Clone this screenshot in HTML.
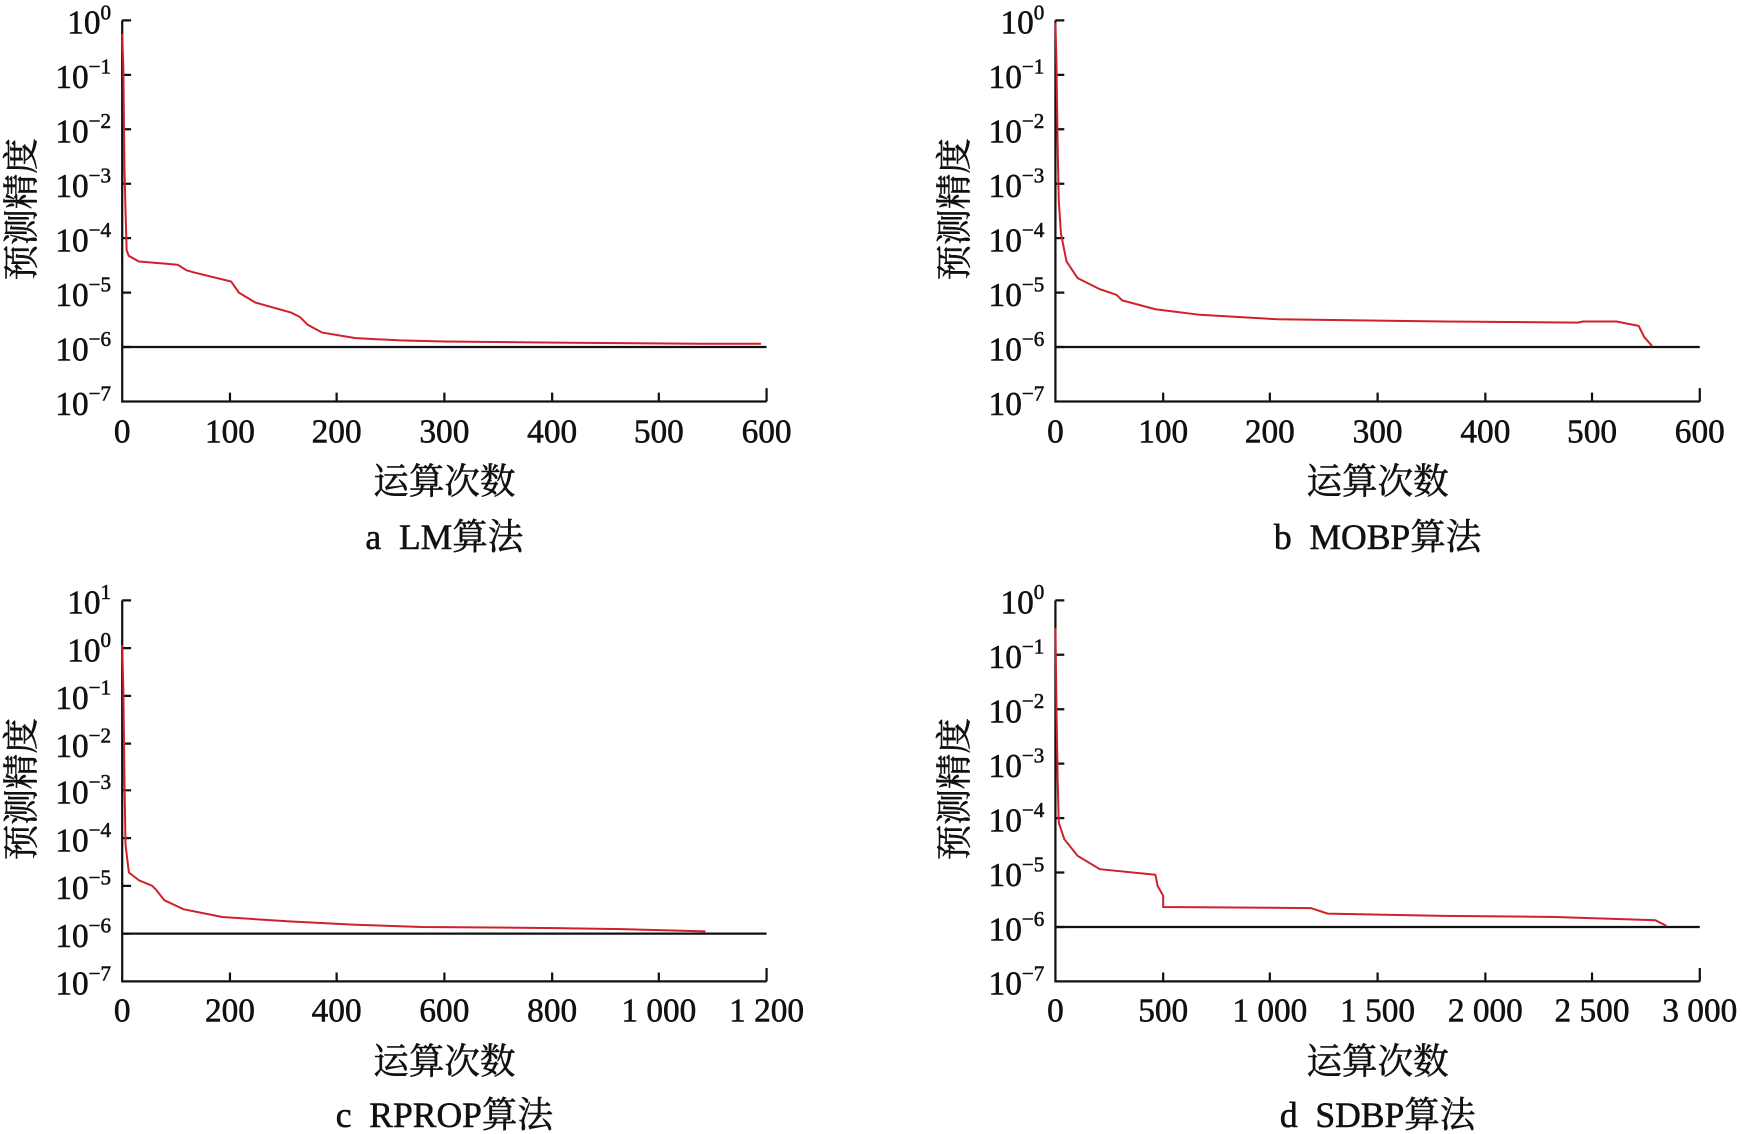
<!DOCTYPE html>
<html><head><meta charset="utf-8"><style>
html,body{margin:0;padding:0;background:#fff;}
svg{display:block}
text{font-family:"Liberation Serif","Noto Serif CJK SC",serif;fill:#111;stroke:#111;stroke-width:0.5;}
.t{font-size:30px;}
.cj{font-family:"Liberation Serif","Noto Serif CJK SC",serif;font-size:32px;}
</style></head><body>
<svg width="1742" height="1134" viewBox="0 0 1568 1020" xmlns="http://www.w3.org/2000/svg">
<g stroke="#111" stroke-width="2" fill="none">
<path d="M110,18 V361 H690"/>
<path d="M110,18h8M110,67h8M110,116h8M110,165h8M110,214h8M110,263h8M110,312h8"/>
<path d="M207,361v-8M303,361v-8M400,361v-8M497,361v-8M593,361v-8M690,361v-12"/>
<path d="M110,312H690"/>
<path d="M950,18 V361 H1530"/>
<path d="M950,18h8M950,67h8M950,116h8M950,165h8M950,214h8M950,263h8M950,312h8"/>
<path d="M1047,361v-8M1143,361v-8M1240,361v-8M1337,361v-8M1433,361v-8M1530,361v-12"/>
<path d="M950,312H1530"/>
<path d="M110,540 V883 H690"/>
<path d="M110,540h8M110,583h8M110,626h8M110,669h8M110,711h8M110,754h8M110,797h8M110,840h8"/>
<path d="M207,883v-8M303,883v-8M400,883v-8M497,883v-8M593,883v-8M690,883v-12"/>
<path d="M110,840H690"/>
<path d="M950,540 V883 H1530"/>
<path d="M950,540h8M950,589h8M950,638h8M950,687h8M950,736h8M950,785h8M950,834h8"/>
<path d="M1047,883v-8M1143,883v-8M1240,883v-8M1337,883v-8M1433,883v-8M1530,883v-12"/>
<path d="M950,834H1530"/>
</g>
<g stroke="#d0202a" stroke-width="1.8" fill="none">
<polyline points="110,30 111,60 112,150 113,190 114,225 116,230 125,235 150,237 160,238 168,243 175,245 208,253 215,263 230,272 262,281 270,285 277,292 290,299 320,304 360,306 400,307 500,308 630,309 685,309"/>
<polyline points="950,20 951,60 952,130 953,180 955,210 960,235 970,250 990,260 1005,265 1010,270 1040,278 1080,283 1150,287 1300,289 1420,290 1425,289 1455,289 1475,293 1480,303 1487,311"/>
<polyline points="110,580 111,620 112,700 113,760 116,785 125,792 137,797 140,800 148,810 165,818 200,825 260,829 320,832 380,834 500,835 560,836 635,838"/>
<polyline points="950,565 951,640 952,700 953,740 958,755 970,770 990,782 1040,787 1042,797 1047,806 1047,816 1180,817 1195,822 1300,824 1400,825 1490,828 1500,833"/>
</g>
<g class="t" text-anchor="end">
<text x="100" y="30">10<tspan font-size="19" dy="-13">0</tspan></text>
<text x="100" y="79">10<tspan font-size="19" dy="-13">−1</tspan></text>
<text x="100" y="128">10<tspan font-size="19" dy="-13">−2</tspan></text>
<text x="100" y="177">10<tspan font-size="19" dy="-13">−3</tspan></text>
<text x="100" y="226">10<tspan font-size="19" dy="-13">−4</tspan></text>
<text x="100" y="275">10<tspan font-size="19" dy="-13">−5</tspan></text>
<text x="100" y="324">10<tspan font-size="19" dy="-13">−6</tspan></text>
<text x="100" y="373">10<tspan font-size="19" dy="-13">−7</tspan></text>
<text x="940" y="30">10<tspan font-size="19" dy="-13">0</tspan></text>
<text x="940" y="79">10<tspan font-size="19" dy="-13">−1</tspan></text>
<text x="940" y="128">10<tspan font-size="19" dy="-13">−2</tspan></text>
<text x="940" y="177">10<tspan font-size="19" dy="-13">−3</tspan></text>
<text x="940" y="226">10<tspan font-size="19" dy="-13">−4</tspan></text>
<text x="940" y="275">10<tspan font-size="19" dy="-13">−5</tspan></text>
<text x="940" y="324">10<tspan font-size="19" dy="-13">−6</tspan></text>
<text x="940" y="373">10<tspan font-size="19" dy="-13">−7</tspan></text>
<text x="100" y="552">10<tspan font-size="19" dy="-13">1</tspan></text>
<text x="100" y="595">10<tspan font-size="19" dy="-13">0</tspan></text>
<text x="100" y="638">10<tspan font-size="19" dy="-13">−1</tspan></text>
<text x="100" y="681">10<tspan font-size="19" dy="-13">−2</tspan></text>
<text x="100" y="723">10<tspan font-size="19" dy="-13">−3</tspan></text>
<text x="100" y="766">10<tspan font-size="19" dy="-13">−4</tspan></text>
<text x="100" y="809">10<tspan font-size="19" dy="-13">−5</tspan></text>
<text x="100" y="852">10<tspan font-size="19" dy="-13">−6</tspan></text>
<text x="100" y="895">10<tspan font-size="19" dy="-13">−7</tspan></text>
<text x="940" y="552">10<tspan font-size="19" dy="-13">0</tspan></text>
<text x="940" y="601">10<tspan font-size="19" dy="-13">−1</tspan></text>
<text x="940" y="650">10<tspan font-size="19" dy="-13">−2</tspan></text>
<text x="940" y="699">10<tspan font-size="19" dy="-13">−3</tspan></text>
<text x="940" y="748">10<tspan font-size="19" dy="-13">−4</tspan></text>
<text x="940" y="797">10<tspan font-size="19" dy="-13">−5</tspan></text>
<text x="940" y="846">10<tspan font-size="19" dy="-13">−6</tspan></text>
<text x="940" y="895">10<tspan font-size="19" dy="-13">−7</tspan></text>
</g>
<g class="t" text-anchor="middle">
<text x="110" y="398">0</text><text x="207" y="398">100</text><text x="303" y="398">200</text><text x="400" y="398">300</text><text x="497" y="398">400</text><text x="593" y="398">500</text><text x="690" y="398">600</text>
<text x="950" y="398">0</text><text x="1047" y="398">100</text><text x="1143" y="398">200</text><text x="1240" y="398">300</text><text x="1337" y="398">400</text><text x="1433" y="398">500</text><text x="1530" y="398">600</text>
<text x="110" y="919">0</text><text x="207" y="919">200</text><text x="303" y="919">400</text><text x="400" y="919">600</text><text x="497" y="919">800</text><text x="593" y="919">1 000</text><text x="690" y="919">1 200</text>
<text x="950" y="919">0</text><text x="1047" y="919">500</text><text x="1143" y="919">1 000</text><text x="1240" y="919">1 500</text><text x="1337" y="919">2 000</text><text x="1433" y="919">2 500</text><text x="1530" y="919">3 000</text>
</g>
<g class="cj" text-anchor="middle">
<text x="400" y="444">运算次数</text>
<text x="1240" y="444">运算次数</text>
<text x="400" y="966">运算次数</text>
<text x="1240" y="966">运算次数</text>
<text x="400" y="494" xml:space="preserve">a  LM算法</text>
<text x="1240" y="494" xml:space="preserve">b  MOBP算法</text>
<text x="400" y="1014" xml:space="preserve">c  RPROP算法</text>
<text x="1240" y="1014" xml:space="preserve">d  SDBP算法</text>
<text transform="translate(30,188) rotate(-90)">预测精度</text>
<text transform="translate(870,188) rotate(-90)">预测精度</text>
<text transform="translate(30,710) rotate(-90)">预测精度</text>
<text transform="translate(870,710) rotate(-90)">预测精度</text>
</g>
</svg>
</body></html>
